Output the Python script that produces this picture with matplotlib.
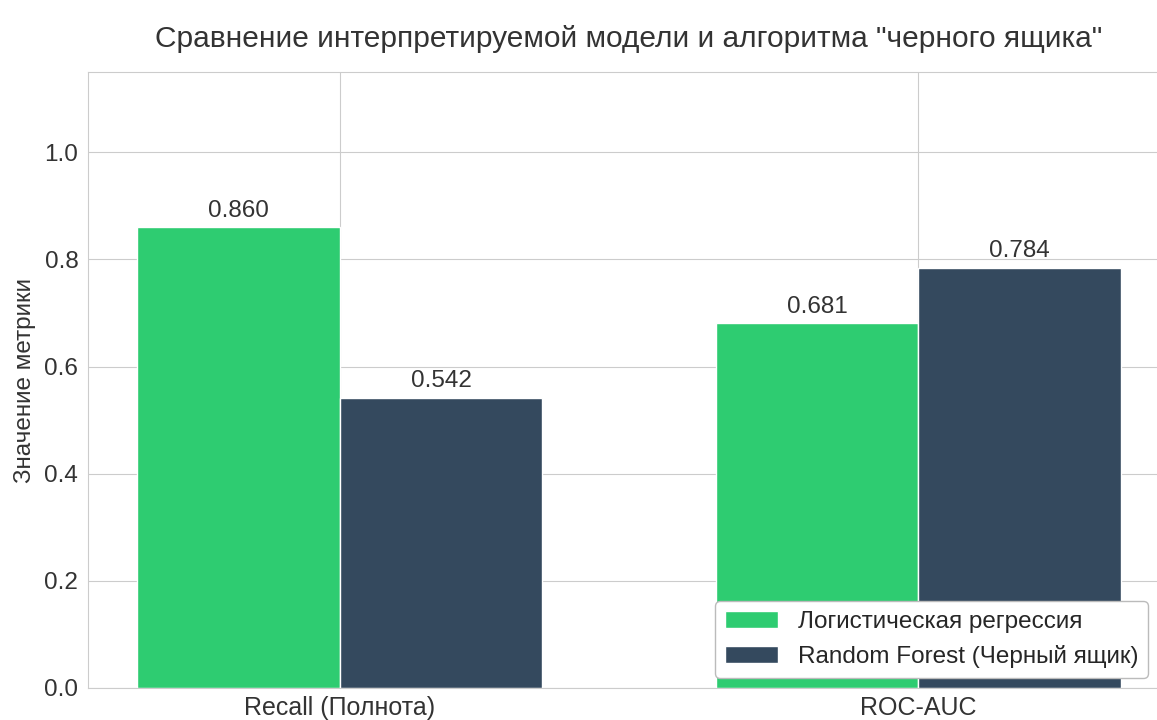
import matplotlib
matplotlib.use("Agg")
import matplotlib.pyplot as plt
import numpy as np
import seaborn as sns

metrics = ["Recall (Полнота)", "ROC-AUC"]
logreg_scores = [0.860, 0.681]
rf_scores = [0.542, 0.784]
series_names = ["Логистическая регрессия", "Random Forest (Черный ящик)"]
series_colors = ["#2ecc71", "#34495e"]

sns.set_style("whitegrid")
plt.rcParams["font.family"] = ["Liberation Sans", "DejaVu Sans"]

W, H = 1157, 720
fig = plt.figure(figsize=(W / 100, H / 100), dpi=100)
ax = fig.add_axes([88 / W, 1 - 688 / H, (1170 - 88) / W, (688 - 72) / H])

x = np.arange(len(metrics))
width = 0.35
b1 = ax.bar(x - width / 2, logreg_scores, width, color=series_colors[0], label=series_names[0])
b2 = ax.bar(x + width / 2, rf_scores, width, color=series_colors[1], label=series_names[1])

for bars in (b1, b2):
    for rect in bars:
        h = rect.get_height()
        ax.annotate(f"{h:.3f}", xy=(rect.get_x() + rect.get_width() / 2, h),
                    xytext=(0, 4), textcoords="offset points",
                    ha="center", va="bottom", fontsize=17.5, color="#333333")

ax.set_xticks(x)
ax.set_xticklabels(metrics, fontsize=18, color="#333333")
ax.tick_params(axis="y", labelsize=17.5, labelcolor="#333333")
ax.tick_params(axis="x", pad=2)
ax.set_ylim(0, 1.15)
ax.set_xlim(-0.435, 1.435)
ax.set_ylabel("Значение метрики", fontsize=17.5, color="#333333", labelpad=6)
ax.set_title('Сравнение интерпретируемой модели и алгоритма "черного ящика"',
             fontsize=21.5, pad=18, color="#333333")
leg = ax.legend(loc="lower right", fontsize=17.5, frameon=True, framealpha=1.0,
                borderaxespad=0, handlelength=2.2,
                bbox_to_anchor=(1148 / W, 1 - 678 / H), bbox_transform=fig.transFigure)
leg.get_frame().set_edgecolor("#bbbbbb")
leg.get_frame().set_linewidth(1.0)

fig.savefig("out.png", dpi=100)
